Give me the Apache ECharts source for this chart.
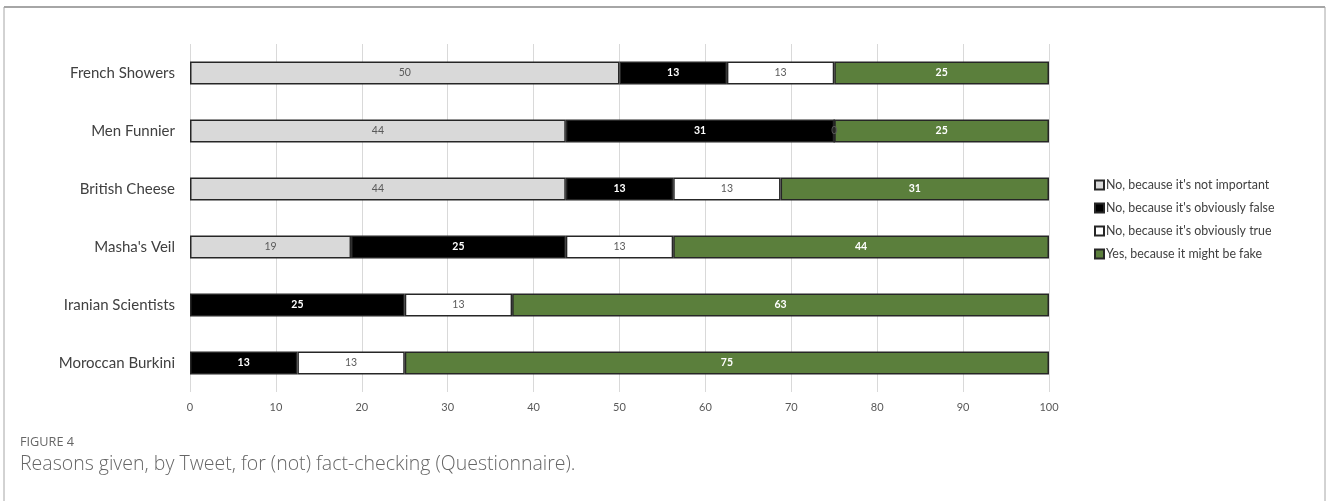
<!DOCTYPE html>
<html><head><meta charset="utf-8">
<script src="https://cdn.jsdelivr.net/npm/echarts@6/dist/echarts.min.js"></script>
<style>html,body{margin:0;padding:0;background:#fff}#c{width:1327px;height:501px}</style>
</head><body><div id="c"></div>
<script>
const categories = ["French Showers","Men Funnier","British Cheese","Masha's Veil","Iranian Scientists","Moroccan Burkini"];
const seriesNames = ["No, because it's not important","No, because it's obviously false","No, because it's obviously true","Yes, because it might be fake"];
const notImportant = [50, 43.75, 43.75, 18.75, null, null];
const obviouslyFalse = [12.5, 31.25, 12.5, 25, 25, 12.5];
const obviouslyTrue = [12.5, 0, 12.5, 12.5, 12.5, 12.5];
const mightBeFake = [25, 25, 31.25, 43.75, 62.5, 75];
const xTicks = [0,10,20,30,40,50,60,70,80,90,100];
const figureLabel = "FIGURE 4";
const captionText = "Reasons given, by Tweet, for (not) fact-checking (Questionnaire).";

const colors = ['#d9d9d9','#000000','#ffffff','#5b7f3c'];
const labelColors = ['#595959','#ffffff','#595959','#ffffff'];
const values = [notImportant, obviouslyFalse, obviouslyTrue, mightBeFake];

const chart = echarts.init(document.getElementById('c'));
chart.setOption({
  animation:false,
  textStyle:{fontFamily:'Lato'},
  grid:{left:190,right:278,top:44,bottom:109},
  xAxis:{type:'value',min:0,max:100,interval:10,
    axisLine:{show:false},axisTick:{show:false},
    splitLine:{lineStyle:{color:'#d9d9d9',width:1}},
    axisLabel:{color:'#595959',fontSize:11,margin:10,formatter:v=>xTicks.includes(v)?String(v):''}},
  yAxis:{type:'category',data:categories,inverse:true,
    axisLine:{show:false},axisTick:{show:false},
    axisLabel:{color:'#404040',fontSize:15,margin:15}},
  legend:{orient:'vertical',left:1089,top:174,itemWidth:9,itemHeight:9,itemGap:11,
    icon:'rect',textStyle:{color:'#404040',fontSize:12.4,padding:[0,0,0,-3]},
    data:seriesNames},
  series: seriesNames.map((n,i)=>({
    name:n,type:'bar',stack:'s',barWidth:23,
    data:values[i],
    itemStyle:{color:colors[i],borderColor:'#262626',borderWidth:1.5},
    label:{show:true,position:'inside',color:labelColors[i],fontSize:10.5,
      fontWeight:(i===1||i===3)?'bold':'normal',
      formatter:p=>p.value==null?'':String(Math.round(p.value))}
  })),
  graphic:[
    {type:'line',shape:{x1:4,y1:7,x2:1325,y2:7},style:{stroke:'#a6a6a6',lineWidth:2}},
    {type:'line',shape:{x1:4,y1:7,x2:4,y2:501},style:{stroke:'#a6a6a6',lineWidth:1}},
    {type:'line',shape:{x1:1325,y1:7,x2:1325,y2:501},style:{stroke:'#a6a6a6',lineWidth:1}},
    {type:'text',left:20,top:436,style:{text:figureLabel,fill:'#666',font:'12.7px "Open Sans"'}},
    {type:'text',left:20,top:454,style:{text:captionText,fill:'#666',font:'300 19.5px "Open Sans"'}}
  ]
});
</script></body></html>
